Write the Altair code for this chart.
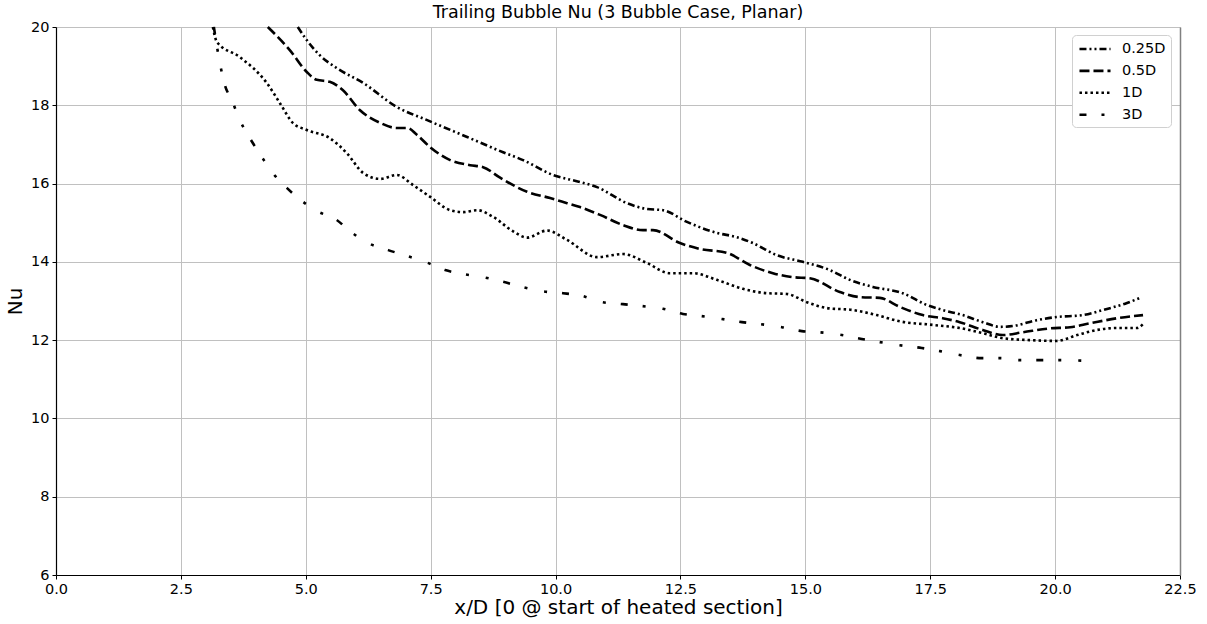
import altair as alt
import pandas as pd

# Trailing-bubble Nusselt number vs. streamwise position, one curve per spacing
x_025 = [4.84, 5.0, 5.28, 5.62, 6.15, 6.82, 7.43, 8.23, 8.95, 9.35, 9.95, 10.49, 10.83,
         11.43, 11.83, 12.15, 12.63, 13.23, 13.63, 13.95, 14.43, 14.95, 15.49, 15.89,
         16.35, 16.95, 17.43, 17.75, 18.15, 18.55, 18.9, 19.15, 19.63, 20.03, 20.56,
         20.96, 21.44, 21.7]
nu_025 = [20.0, 19.7, 19.28, 18.95, 18.57, 17.96, 17.62, 17.19, 16.8, 16.6, 16.22, 16.04,
          15.91, 15.5, 15.35, 15.32, 15.02, 14.74, 14.63, 14.48, 14.17, 14.0, 13.79, 13.54,
          13.36, 13.2, 12.9, 12.77, 12.64, 12.46, 12.34, 12.36, 12.51, 12.59, 12.64,
          12.77, 12.95, 13.08]

x_05 = [4.24, 4.68, 5.02, 5.22, 5.48, 5.74, 6.08, 6.49, 6.82, 7.03, 7.23, 7.49, 7.89,
        8.29, 8.55, 8.89, 9.43, 9.89, 10.23, 10.49, 10.89, 11.35, 11.75, 11.95, 12.49,
        12.89, 13.43, 13.89, 14.35, 14.75, 15.09, 15.69, 16.09, 16.49, 16.89, 17.35,
        17.75, 18.09, 18.55, 18.95, 19.35, 19.9, 20.3, 20.7, 21.24, 21.76]
nu_05 = [20.0, 19.41, 18.85, 18.65, 18.6, 18.39, 17.88, 17.55, 17.42, 17.42, 17.24, 16.93,
         16.6, 16.47, 16.42, 16.15, 15.79, 15.63, 15.5, 15.4, 15.2, 14.94, 14.81, 14.81,
         14.48, 14.33, 14.23, 13.92, 13.71, 13.61, 13.58, 13.23, 13.1, 13.08, 12.85,
         12.64, 12.56, 12.46, 12.26, 12.13, 12.2, 12.3, 12.33, 12.43, 12.56, 12.64]

x_1 = [3.14, 3.22, 3.68, 4.22, 4.48, 4.74, 5.02, 5.48, 5.82, 6.15, 6.49, 6.82, 7.15, 7.49,
       7.89, 8.15, 8.43, 8.75, 9.15, 9.43, 9.83, 10.23, 10.83, 11.35, 11.83, 12.29, 12.75,
       13.23, 13.75, 14.23, 14.63, 15.03, 15.43, 15.95, 16.43, 16.89, 17.55, 18.09,
       18.55, 18.95, 19.49, 20.03, 20.44, 20.84, 21.24, 21.64, 21.76]
nu_1 = [20.0, 19.62, 19.23, 18.57, 18.06, 17.55, 17.37, 17.16, 16.78, 16.27, 16.12, 16.22,
        15.96, 15.66, 15.32, 15.27, 15.32, 15.15, 14.78, 14.62, 14.8, 14.56, 14.12, 14.2,
        13.97, 13.71, 13.71, 13.54, 13.31, 13.2, 13.18, 12.97, 12.82, 12.77, 12.64, 12.48,
        12.39, 12.31, 12.18, 12.05, 12.0, 11.98, 12.13, 12.26, 12.31, 12.31, 12.41]

x_3 = [3.16, 3.28, 3.38, 3.52, 3.68, 3.88, 4.08, 4.32, 4.62, 4.88, 5.22, 5.62, 5.88, 6.25,
       6.65, 6.98, 7.39, 7.79, 8.15, 8.55, 8.95, 9.33, 9.73, 10.15, 10.53, 10.93, 11.35,
       11.73, 12.15, 12.55, 12.89, 13.33, 13.73, 14.09, 14.53, 14.93, 15.29, 15.73,
       16.13, 16.49, 16.89, 17.33, 17.69, 18.09, 18.53, 18.9, 19.29, 19.73, 20.1, 20.64]
nu_3 = [20.0, 19.08, 18.52, 18.13, 17.62, 17.16, 16.76, 16.3, 15.89, 15.6, 15.3, 15.07,
        14.79, 14.48, 14.3, 14.17, 14.0, 13.79, 13.69, 13.61, 13.49, 13.36, 13.25, 13.2,
        13.13, 12.97, 12.92, 12.87, 12.8, 12.67, 12.62, 12.54, 12.46, 12.41, 12.33, 12.23,
        12.2, 12.13, 12.03, 11.95, 11.87, 11.8, 11.72, 11.62, 11.54, 11.54, 11.49, 11.49,
        11.49, 11.47]

series_names = ["0.25D", "0.5D", "1D", "3D"]
dash_styles = [[7, 3, 2, 3, 2, 3], [10, 4], [2.5, 3], [7, 15, 3, 17, 3, 15]]

frames = []
for name, xs, ys in zip(series_names, [x_025, x_05, x_1, x_3], [nu_025, nu_05, nu_1, nu_3]):
    frames.append(pd.DataFrame({"x": xs, "Nu": ys, "series": name}))
df = pd.concat(frames, ignore_index=True)

x_scale = alt.Scale(domain=[0, 22.5], nice=False, zero=False)
y_scale = alt.Scale(domain=[6, 20], nice=False, zero=False)

lines = alt.Chart(df).mark_line(
    color="black", strokeWidth=2.6, interpolate="monotone", strokeCap="butt"
).encode(
    x=alt.X("x:Q", scale=x_scale,
            axis=alt.Axis(title="x/D [0 @ start of heated section]",
                          values=[0, 2.5, 5, 7.5, 10, 12.5, 15, 17.5, 20, 22.5],
                          format=".1f", labelFlush=False)),
    y=alt.Y("Nu:Q", scale=y_scale,
            axis=alt.Axis(title="Nu", values=[6, 8, 10, 12, 14, 16, 18, 20])),
    strokeDash=alt.StrokeDash(
        "series:N",
        scale=alt.Scale(domain=series_names, range=dash_styles),
        legend=alt.Legend(
            title=None, orient="none", legendX=1016, legendY=8,
            symbolType="M-0.87,0H3.27", symbolSize=225, symbolStrokeWidth=2.6,
            symbolStrokeColor="black", labelFontSize=14.5, labelOffset=27,
            rowPadding=5.9, padding=5, strokeColor="#d0d0d0", cornerRadius=4,
            fillColor="white", labelFont="DejaVu Sans", labelColor="black",
        ),
    ),
    detail="series:N",
    order="x:Q",
)

# right-hand frame line
frame_right = alt.Chart(df).mark_line(opacity=0).encode(
    x=alt.X("x:Q", scale=x_scale),
    y=alt.Y("Nu:Q", scale=y_scale,
            axis=alt.Axis(orient="right", labels=False, ticks=False, grid=False,
                          title=None, domainColor="#808080", domainWidth=1.5)),
)

chart = alt.layer(lines, frame_right).resolve_scale(y="independent").properties(
    width=1124,
    height=548,
    autosize=alt.AutoSizeParams(type="none"),
    padding={"left": 56, "top": 27, "right": 27, "bottom": 49},
    title=alt.Title("Trailing Bubble Nu (3 Bubble Case, Planar)", fontSize=17.5,
                    font="DejaVu Sans", fontWeight="normal", color="black", offset=-2),
).configure_view(stroke=None).configure_axis(
    labelFont="DejaVu Sans", titleFont="DejaVu Sans", labelFontSize=14.5,
    titleFontSize=20, titleFontWeight="normal", labelColor="black", titleColor="black",
    domainColor="black", domainWidth=1.2, tickColor="black", tickSize=4,
    gridColor="#c0c0c0", gridWidth=1,
).configure_axisX(labelPadding=3, titlePadding=2).configure_axisY(
    labelPadding=3, titlePadding=5)

chart.save("out.html", embed_options={"renderer": "svg", "actions": False})
